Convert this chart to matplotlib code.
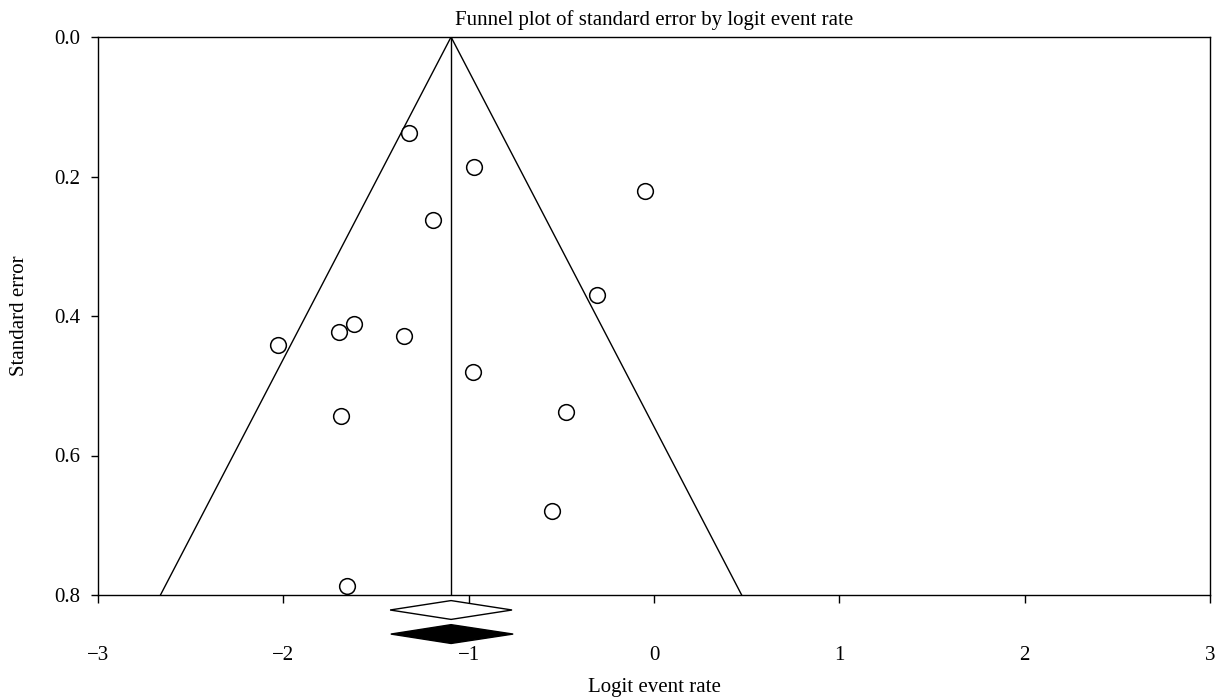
import matplotlib
matplotlib.use("Agg")
import matplotlib.pyplot as plt
import numpy as np

plt.rcParams['font.family'] = ['Liberation Serif', 'DejaVu Serif']

# Study-level data: logit event rate and standard error
logit_rate = [-1.322, -0.971, -0.049, -1.192, -0.308, -1.619, -1.700,
              -1.349, -2.029, -0.977, -0.475, -1.689, -0.550, -1.657]
std_error = [0.137, 0.186, 0.221, 0.262, 0.370, 0.412, 0.423,
             0.428, 0.442, 0.480, 0.538, 0.543, 0.680, 0.787]

# Pooled estimate (observed) and adjusted estimate
pooled_est = -1.095
pooled_lo = -1.424
pooled_hi = -0.766
adj_est = -1.095
adj_lo = -1.420
adj_hi = -0.760
se_max = 0.8

x_ticks = [-3, -2, -1, 0, 1, 2, 3]
y_ticks = [0.0, 0.2, 0.4, 0.6, 0.8]

fig = plt.figure(figsize=(12.2, 6.99), dpi=100)
ax = fig.add_axes([98/1220, 1 - 595/699, (1210-98)/1220, (595-37)/699])

lw = 1.0
fs = 15
# Funnel
ax.plot([pooled_est - 1.96*se_max, pooled_est, pooled_est + 1.96*se_max],
        [se_max, 0, se_max], color='black', lw=lw, zorder=2)
ax.plot([pooled_est, pooled_est], [0, se_max], color='black', lw=lw, zorder=2)

# Points
ax.plot(logit_rate, std_error, 'o', ms=11.3, mfc='white', mec='black',
        mew=1.1, zorder=3, clip_on=False)

# Diamonds below the axis
dh = 0.0135
yd1 = 0.8215
yd2 = 0.856
ax.fill([pooled_lo, pooled_est, pooled_hi, pooled_est],
        [yd1, yd1 - dh, yd1, yd1 + dh], facecolor='white', edgecolor='black',
        lw=lw, clip_on=False, zorder=4)
ax.fill([adj_lo, adj_est, adj_hi, adj_est],
        [yd2, yd2 - dh, yd2, yd2 + dh], facecolor='black', edgecolor='black',
        lw=lw, clip_on=False, zorder=4)

ax.set_xlim(-3, 3)
ax.set_ylim(se_max, 0)
ax.set_xticks(x_ticks)
ax.set_yticks(y_ticks)
ax.set_yticklabels([f"{v:.1f}" for v in y_ticks])
ax.set_xticklabels([f"{v}".replace('-', '\u2212') for v in x_ticks])

for s in ax.spines.values():
    s.set_linewidth(lw)
ax.tick_params(axis='x', direction='out', length=5.8, width=lw, pad=31, labelsize=fs)
ax.tick_params(axis='y', direction='out', length=5, width=lw, pad=8, labelsize=fs)

ax.set_title("Funnel plot of standard error by logit event rate", fontsize=fs, pad=9)
ax.set_xlabel("Logit event rate", fontsize=fs, labelpad=9)
ax.set_ylabel("Standard error", fontsize=fs, labelpad=18)

fig.savefig("out.png", dpi=100)
